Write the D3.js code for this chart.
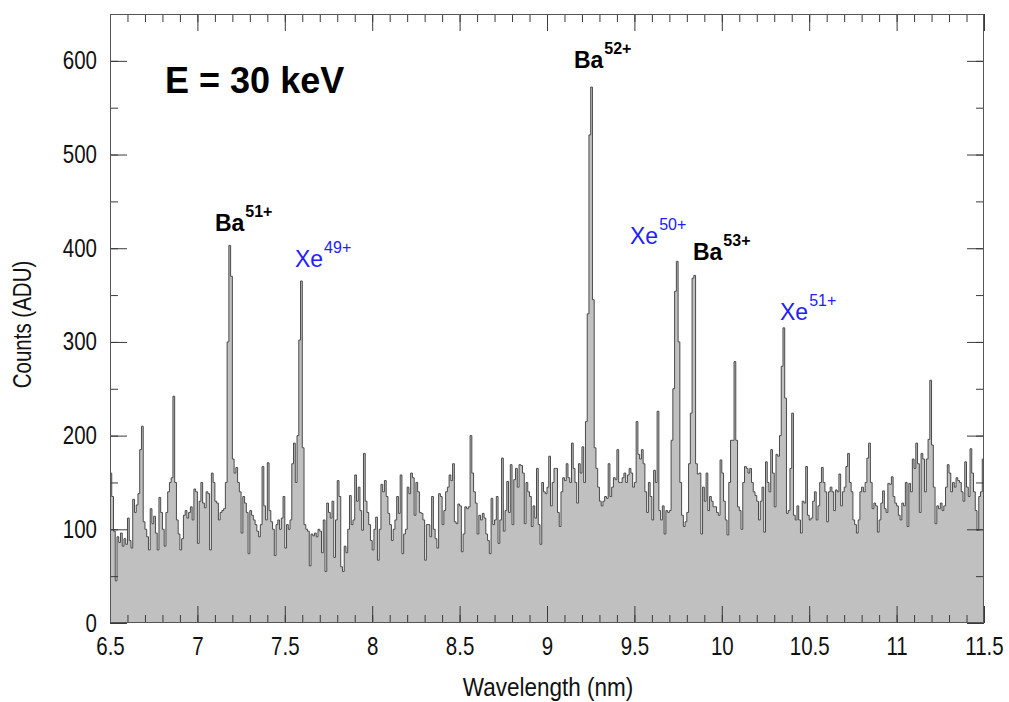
<!DOCTYPE html>
<html>
<head>
<meta charset="utf-8">
<script src="https://cdn.jsdelivr.net/npm/d3@7"></script>
<style>
  html, body { margin: 0; padding: 0; background: #ffffff; }
  svg { display: block; font-family: "Liberation Sans", Arial, Helvetica, sans-serif; }
</style>
</head>
<body>
<script>
// ---------------- data ----------------
const binStart = 6.5;      // nm, left edge of first bin
const binWidth = 0.01;     // nm
const counts = [
  160,135,98,45,92,86,96,82,90,84,
  112,88,80,132,118,126,138,185,210,108,
  100,92,78,122,106,114,96,78,134,118,
  100,82,118,140,150,155,242,150,110,95,
  78,90,115,120,112,118,124,110,143,140,
  85,130,150,128,123,140,138,78,160,150,
  130,128,110,118,120,122,150,300,403,370,
  175,160,166,150,140,96,135,128,118,74,
  120,115,110,105,98,92,105,167,125,110,
  171,120,108,100,72,105,110,100,112,135,
  80,105,100,110,170,192,150,200,302,365,
  187,105,100,98,61,95,93,96,92,100,
  98,75,110,55,128,118,112,130,70,110,
  152,135,60,55,82,75,100,136,105,110,
  158,130,145,120,99,181,130,118,105,88,
  78,100,113,67,100,148,140,152,135,117,
  105,88,100,110,135,117,158,74,95,100,
  145,138,160,155,115,150,140,118,117,110,
  67,105,105,92,135,100,90,80,138,135,
  105,120,140,145,158,152,170,108,106,127,
  125,76,95,124,122,124,200,160,140,128,
  95,115,110,117,112,95,88,74,133,105,
  110,135,85,110,176,98,120,151,118,169,
  105,153,165,145,169,168,160,106,150,140,
  135,103,125,112,165,105,84,150,140,138,
  145,178,125,150,165,165,118,103,140,155,
  152,170,155,150,192,165,150,128,170,160,
  188,150,215,330,521,572,345,187,165,145,
  130,125,130,135,133,170,135,145,155,153,
  185,150,150,155,160,150,158,165,160,145,
  150,215,180,175,185,170,140,118,150,135,
  110,163,150,226,120,110,125,95,120,118,
  120,195,250,354,386,300,150,115,103,108,
  118,170,224,368,371,170,159,160,95,145,
  130,160,120,135,130,124,124,118,115,174,
  160,130,110,94,150,195,195,279,195,124,
  120,100,150,167,165,160,165,150,140,136,
  130,110,130,145,97,172,150,140,185,160,
  124,180,178,200,274,315,240,117,120,165,
  224,115,110,125,110,96,130,128,167,115,
  110,112,130,140,110,125,150,166,150,140,
  108,140,145,140,120,142,140,159,125,140,
  145,167,181,150,140,110,105,96,110,140,
  145,140,150,176,192,150,122,128,125,97,
  110,128,141,122,118,149,148,156,135,128,
  125,115,110,128,125,150,103,149,140,175,
  165,192,170,118,181,175,140,175,196,259,
  190,145,106,125,122,128,120,125,145,169,
  160,140,150,145,155,152,150,140,130,172,
  145,135,186,160,140,120,99,135,140,175
];
const xTicks = [6.5, 7, 7.5, 8, 8.5, 9, 9.5, 10, 10.5, 11, 11.5];
const xTickLabels = ["6.5","7","7.5","8","8.5","9","9.5","10","10.5","11","11.5"];
const yTicks = [0, 100, 200, 300, 400, 500, 600];
const yTickLabels = ["0","100","200","300","400","500","600"];
const ionNames = ["Ba", "Xe", "Ba", "Xe", "Ba", "Xe"];
const ionCharges = ["51+", "49+", "52+", "50+", "53+", "51+"];
const ionElement = ["Ba", "Xe", "Ba", "Xe", "Ba", "Xe"];
// label anchor (left/baseline) in data units
const ionLabelX = [7.10, 7.558, 9.154, 9.475, 9.835, 10.333];
const ionLabelY = [418, 380, 592, 405, 387, 323];
const titleText = "E = 30 keV";
const xTitle = "Wavelength (nm)";
const yTitle = "Counts (ADU)";

// ---------------- layout ----------------
const W = 1009, H = 702;
const L = 110, R = 984, T = 14, B = 623;
const SX = 0.82;   // horizontal condensing of axis text

const svg = d3.select("body").append("svg").attr("width", W).attr("height", H);

const x = d3.scaleLinear().domain([6.5, 11.5]).range([L, R]);
const y = d3.scaleLinear().domain([0, 650]).range([B, T]);

const pts = counts.map((c, i) => [binStart + i * binWidth, c]);
pts.push([binStart + counts.length * binWidth, counts[counts.length - 1]]);

svg.append("clipPath").attr("id", "clip")
  .append("rect").attr("x", L).attr("y", T).attr("width", R - L).attr("height", B - T);

const plot = svg.append("g").attr("clip-path", "url(#clip)");

const area = d3.area().curve(d3.curveStepAfter)
  .x(d => x(d[0])).y0(y(0)).y1(d => y(d[1]));
const line = d3.line().curve(d3.curveStepAfter)
  .x(d => x(d[0])).y(d => y(d[1]));

plot.append("path").datum(pts).attr("d", area).attr("fill", "#c0c0c0");
plot.append("path").datum(pts).attr("d", line)
  .attr("fill", "none").attr("stroke", "#4a4a4a").attr("stroke-width", 1);

// ---------------- axes ----------------
const tickColor = "#3a3a3a";
function style(g) {
  g.select(".domain").remove();
  g.selectAll(".tick line").attr("stroke", tickColor).attr("stroke-width", 1);
  g.selectAll(".tick text").attr("fill", "#111").attr("font-size", 25)
    .attr("font-family", "'Liberation Sans', Arial, sans-serif");
}
const xMinor = d3.range(6.5, 11.5001, 0.1).map(v => +v.toFixed(2));
const yMinor = d3.range(0, 651, 50);

// bottom
svg.append("g").attr("transform", `translate(0,${B})`)
  .call(d3.axisBottom(x).tickValues(xMinor).tickSize(-8).tickFormat(""))
  .call(style);
const gxb = svg.append("g").attr("transform", `translate(0,${B})`)
  .call(d3.axisBottom(x).tickValues(xTicks).tickSize(-17).tickPadding(14)
        .tickFormat((d, i) => xTickLabels[i]))
  .call(style);
gxb.selectAll(".tick text").attr("transform", `scale(${SX},1)`);
// top
svg.append("g").attr("transform", `translate(0,${T})`)
  .call(d3.axisTop(x).tickValues(xMinor).tickSize(-8).tickFormat(""))
  .call(style);
svg.append("g").attr("transform", `translate(0,${T})`)
  .call(d3.axisTop(x).tickValues(xTicks).tickSize(-17).tickFormat(""))
  .call(style);
// left
svg.append("g").attr("transform", `translate(${L},0)`)
  .call(d3.axisLeft(y).tickValues(yMinor).tickSize(-8).tickFormat(""))
  .call(style);
const gyl = svg.append("g").attr("transform", `translate(${L},0)`)
  .call(d3.axisLeft(y).tickValues(yTicks).tickSize(-17).tickPadding(13)
        .tickFormat((d, i) => yTickLabels[i]))
  .call(style);
gyl.selectAll(".tick text").attr("x", -13 / SX).attr("transform", `scale(${SX},1)`);
// right
svg.append("g").attr("transform", `translate(${R},0)`)
  .call(d3.axisRight(y).tickValues(yMinor).tickSize(-8).tickFormat(""))
  .call(style);
svg.append("g").attr("transform", `translate(${R},0)`)
  .call(d3.axisRight(y).tickValues(yTicks).tickSize(-17).tickFormat(""))
  .call(style);

// frame
svg.append("rect").attr("x", L + 0.5).attr("y", T + 0.5)
  .attr("width", R - L - 1).attr("height", B - T - 1)
  .attr("fill", "none").attr("stroke", "#555").attr("stroke-width", 1);

// axis titles
svg.append("text").attr("transform", `translate(${(L + R) / 2 + 1},696) scale(0.9,1)`)
  .attr("text-anchor", "middle").attr("font-size", 25).attr("fill", "#111")
  .text(xTitle);
svg.append("text").attr("transform", `translate(31,${(T + B) / 2 + 6}) rotate(-90) scale(${SX},1)`)
  .attr("text-anchor", "middle").attr("font-size", 25).attr("fill", "#111")
  .text(yTitle);

// title annotation
svg.append("text").attr("x", x(6.815)).attr("y", y(566))
  .attr("font-size", 36).attr("font-weight", "bold").attr("fill", "#000")
  .text(titleText);

// ion labels
ionNames.forEach((n, i) => {
  const isBa = ionElement[i] === "Ba";
  const t = svg.append("text").attr("x", x(ionLabelX[i])).attr("y", y(ionLabelY[i]))
    .attr("fill", isBa ? "#000" : "#2020ff")
    .attr("font-weight", isBa ? "bold" : "normal")
    .attr("font-size", 23);
  t.append("tspan").text(n);
  t.append("tspan").attr("dy", -14).attr("dx", 1).attr("font-size", 16).text(ionCharges[i]);
});
</script>
</body>
</html>
